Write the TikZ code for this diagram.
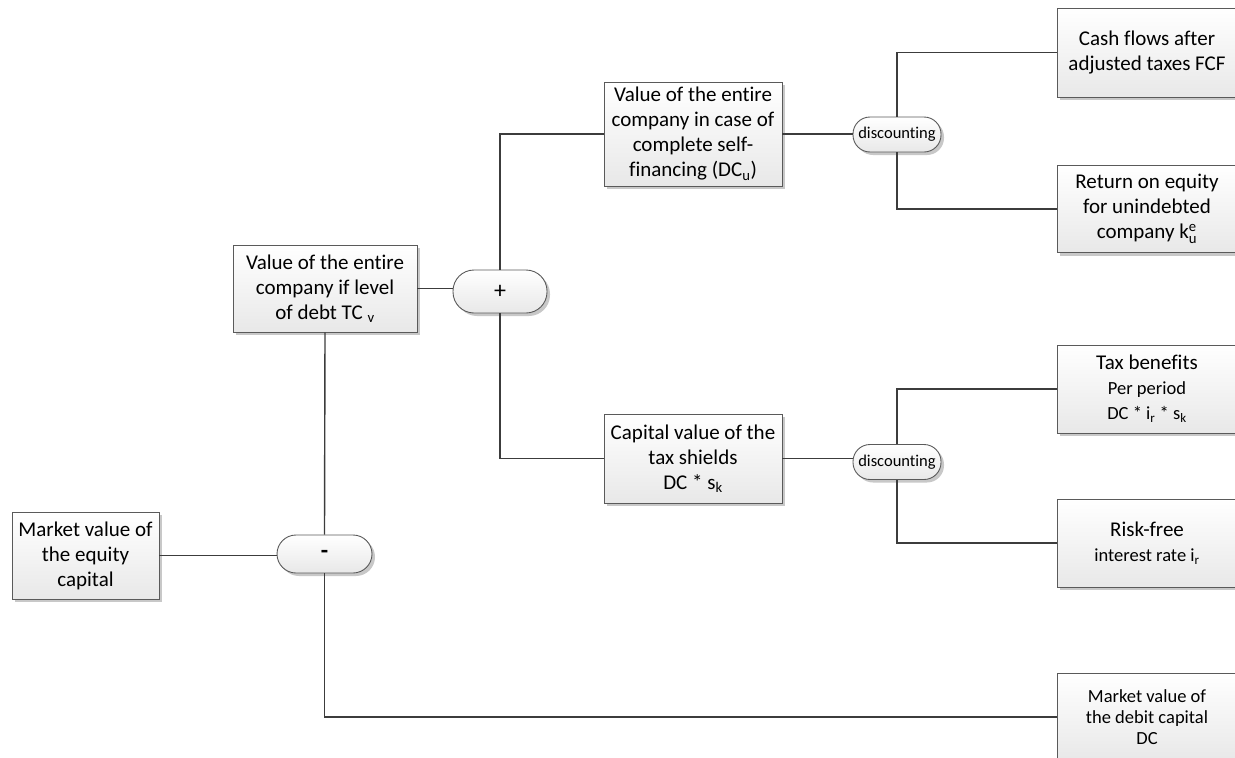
\documentclass[tikz,border=0pt]{standalone}
\usepackage{fontspec}
\setmainfont{Carlito}[Ligatures={NoCommon}]
\usetikzlibrary{shadows}
\definecolor{edge}{HTML}{5A5A5A}
\definecolor{wire}{HTML}{3C3C3C}
\definecolor{shadowgray}{HTML}{C8C8C8}
\tikzset{
  box/.style={draw=edge, line width=0.9pt, top color=white, bottom color=black!9,
    align=center, inner sep=2pt, font=\fontsize{21}{25}\selectfont,
    drop shadow={shadow xshift=3pt, shadow yshift=-3pt, fill=shadowgray, opacity=1}},
  pill/.style={box, rounded corners=#1},
  wire/.style={draw=wire, line width=1.4pt},
  small/.style={font=\fontsize{18.5}{21}\selectfont}
}
\newcommand{\smalltext}{\fontsize{18.5}{22}\selectfont}
\begin{document}
\begin{tikzpicture}[x=1pt,y=-1pt]
\useasboundingbox (0,0) rectangle (1235,758);

% leaf boxes on the right
\node[box, minimum width=180pt, minimum height=89pt] (cf) at (1147,52.5)
  {Cash flows after\\adjusted taxes FCF};
\node[box, minimum width=180pt, minimum height=87pt] (roe) at (1147,209)
  {Return on equity\\for unindebted\\company k$_{\mathrm{u}}^{\mathrm{e}}$};
\node[box, minimum width=180pt, minimum height=88pt] (tax) at (1147,389)
  {Tax benefits\\{\smalltext Per period}\\{\smalltext DC * i$_{\mathrm{r}}$ * s$_{\mathrm{k}}$}};
\node[box, minimum width=180pt, minimum height=88pt] (rf) at (1147,543)
  {Risk-free\\{\smalltext interest rate i$_{\mathrm{r}}$}};
\node[box, small, minimum width=180pt, minimum height=88pt] (dc) at (1147,717)
  {Market value of\\the debit capital\\DC};

% intermediate values
\node[box, minimum width=178pt, minimum height=104pt] (dcu) at (693,134)
  {Value of the entire\\company in case of\\complete self-\\financing (DC$_{\mathrm{u}}$)};
\node[box, minimum width=178pt, minimum height=89pt] (cap) at (693,458.5)
  {Capital value of the\\tax shields\\DC * s$_{\mathrm{k}}$};
\node[box, minimum width=184pt, minimum height=87pt] (tcv) at (325,288.5)
  {Value of the entire\\company if level\\of debt TC $_{\mathrm{v}}$};
\node[box, minimum width=147pt, minimum height=87pt] (eq) at (85.5,555.5)
  {Market value of\\the equity\\capital};

% operators
\node[pill=21pt, minimum width=94pt, minimum height=43pt, font=\fontsize{24}{28}\selectfont]
  (plus) at (500,291.5) {+};
\node[pill=19pt, minimum width=95pt, minimum height=38pt, font=\fontsize{24}{28}\selectfont\bfseries]
  (minus) at (324.5,554) {-};
\node[pill=17pt, minimum width=88pt, minimum height=35pt, font=\fontsize{16.5}{19}\selectfont]
  (d1) at (897,134.5) {discounting};
\node[pill=17pt, minimum width=88pt, minimum height=35pt, font=\fontsize{16.5}{19}\selectfont]
  (d2) at (897,462) {discounting};

% connectors
\draw[wire] (cf.west) -| (d1.north);
\draw[wire] (roe.west) -| (d1.south);
\draw[wire] (dcu.east) -- (dcu.east -| d1.west);
\draw[wire] (tax.west) -| (d2.north);
\draw[wire] (rf.west) -| (d2.south);
\draw[wire] (cap.east) -- (cap.east -| d2.west);
\draw[wire] (dcu.west) -| (plus.north);
\draw[wire] (cap.west) -| (plus.south);
\draw[wire] (tcv.east) -- (tcv.east -| plus.west);
\draw[wire] (tcv.south) -- (minus.north);
\draw[wire] (eq.east) -- (eq.east -| minus.west);
\draw[wire] (dc.west) -| (minus.south);
\end{tikzpicture}
\end{document}
